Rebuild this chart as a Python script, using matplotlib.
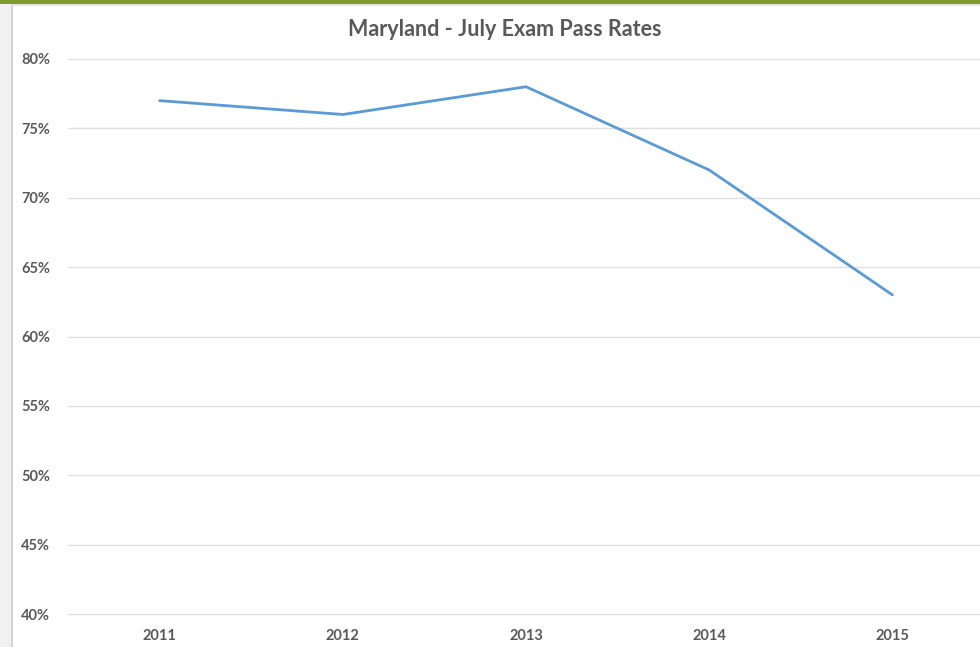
import matplotlib
matplotlib.use("Agg")
import matplotlib.pyplot as plt
from matplotlib.patches import Rectangle
from matplotlib.lines import Line2D

years = ["2011", "2012", "2013", "2014", "2015"]
pass_rates = [0.77, 0.76, 0.78, 0.72, 0.63]
y_ticks = [0.40, 0.45, 0.50, 0.55, 0.60, 0.65, 0.70, 0.75, 0.80]
y_tick_labels = ["40%", "45%", "50%", "55%", "60%", "65%", "70%", "75%", "80%"]
title = "Maryland - July Exam Pass Rates"

W, H = 980, 647
fig = plt.figure(figsize=(W / 100, H / 100), dpi=100)
fig.patch.set_facecolor("white")
plt.rcParams["font.family"] = ["Lato", "DejaVu Sans"]

# left gray strip and border, top green bar
fig.add_artist(Rectangle((0, 0), 11 / W, 1, transform=fig.transFigure,
                         facecolor="#f1f1f1", edgecolor="none", zorder=0))
fig.add_artist(Line2D([11.5 / W, 11.5 / W], [0, 1 - 5 / H], transform=fig.transFigure,
                      color="#d4d4d4", lw=1.5, zorder=1))
fig.add_artist(Line2D([11.5 / W, 1], [1 - 5 / H, 1 - 5 / H], transform=fig.transFigure,
                      color="#e0e0e0", lw=1.2, zorder=1))
fig.add_artist(Rectangle((0, 1 - 3.5 / H), 1, 3.5 / H, transform=fig.transFigure,
                         facecolor="#7f9b2c", edgecolor="none", zorder=2))

ax = fig.add_axes([68 / W, 33 / H, 916 / W, 555 / H])
x = list(range(len(years)))
ax.plot(x, pass_rates, color="#5b9bd5", lw=2.0, solid_capstyle="round", zorder=3)
ax.set_xlim(-0.5, len(years) - 0.5)
ax.set_ylim(0.40, 0.80)
ax.set_yticks(y_ticks)
ax.set_yticklabels(y_tick_labels)
ax.set_xticks(x)
ax.set_xticklabels(years)
ax.grid(axis="y", color="#e0e0e0", lw=1.0)
for gl in ax.get_ygridlines():
    gl.set_clip_on(False)
ax.set_axisbelow(True)
for s in ax.spines.values():
    s.set_visible(False)
ax.tick_params(axis="both", length=0, colors="#595959", labelsize=10.5)
ax.tick_params(axis="y", pad=13)
ax.tick_params(axis="x", pad=11)
for lbl in ax.get_xticklabels() + ax.get_yticklabels():
    lbl.set_fontweight("bold")

fig.text(505 / W, 1 - 30 / H, title, ha="center", va="center",
         fontsize=15.5, fontweight="bold", color="#595959")

fig.savefig("out.png", dpi=100)
